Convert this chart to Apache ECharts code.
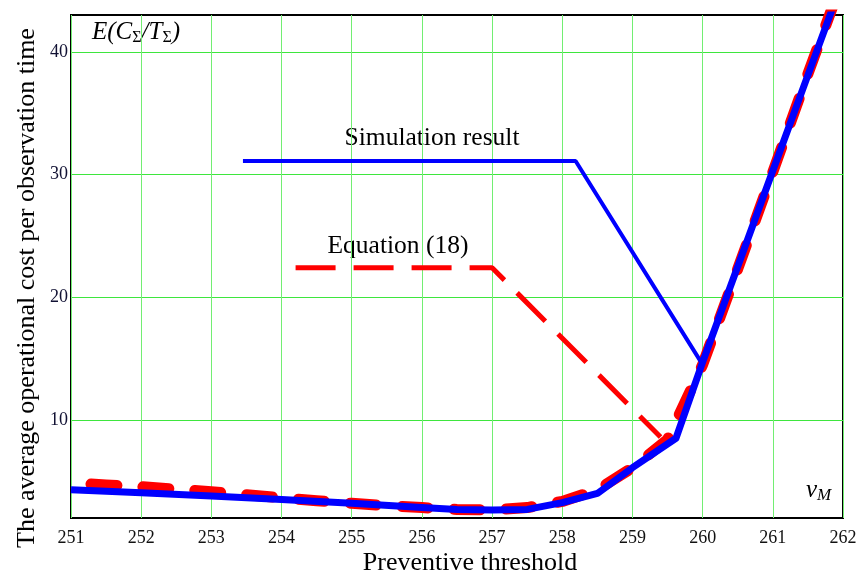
<!DOCTYPE html>
<html>
<head>
<meta charset="utf-8">
<script src="https://cdn.jsdelivr.net/npm/echarts@6/dist/echarts.min.js"></script>
<style>
  html, body { margin: 0; padding: 0; background: #fff; }
  #main { width: 865px; height: 575px; }
</style>
</head>
<body>
<div id="main"></div>
<script>
// simulation result (blue)
var simX = [251, 252, 253, 254, 255, 256, 256.5, 257, 257.5, 258, 258.5, 259, 259.62, 260, 260.5, 261, 261.5, 261.9];
var simY = [4.3, 4.05, 3.8, 3.5, 3.2, 2.85, 2.7, 2.65, 2.7, 3.25, 4.0, 6.1, 8.5, 14.7, 22.5, 30.3, 38.1, 44.3];

// equation (18) (red dashed)
var eqX = [251, 251.5, 252, 252.5, 253, 253.5, 254, 254.5, 255, 255.5, 256, 256.5, 257, 257.5, 258, 258.5, 259, 259.5, 260, 260.5, 261, 261.5, 261.95];
var eqY = [4.85, 4.7, 4.55, 4.35, 4.15, 3.9, 3.65, 3.4, 3.2, 3.0, 2.85, 2.7, 2.65, 2.85, 3.35, 4.3, 6.1, 8.4, 14.5, 22.3, 30.2, 38.2, 45.2];

// annotation leaders
var simLeadX = [253.45, 258.19, 260.0];
var simLeadY = [31.1, 31.1, 14.5];
var eqLeadX = [254.2, 257.0, 259.4];
var eqLeadY = [22.4, 22.4, 8.6];

var xTicks = [251, 252, 253, 254, 255, 256, 257, 258, 259, 260, 261, 262];

function pairs(xs, ys) {
    var res = [];
    for (var i = 0; i < xs.length; i++) {
        res.push([xs[i], ys[i]]);
    }
    return res;
}

var serif = '"Liberation Serif", "Times New Roman", serif';
var green = '#3ee63e';

// 每10个刻度才画一条网格线
var yLineColors = [];
for (var i = 0; i < 10; i++) {
    yLineColors.push(i === 8 ? green : 'rgba(0,0,0,0)');
}

var option = {
    backgroundColor: '#fff',
    animation: false,
    grid: {
        left: 71, right: 22, top: 15, bottom: 57,
        show: true,
        borderColor: '#000',
        borderWidth: 2,
        backgroundColor: 'transparent'
    },
    xAxis: {
        type: 'value',
        min: xTicks[0],
        max: xTicks[xTicks.length - 1],
        interval: 1,
        axisLine: { show: false },
        axisTick: { show: false },
        axisLabel: {
            color: '#111',
            fontFamily: serif,
            fontSize: 18,
            margin: 11
        },
        splitLine: { show: true, lineStyle: { color: '#72ee72', width: 1 } }
    },
    yAxis: {
        type: 'value',
        min: 2,
        max: 43,
        interval: 1,
        axisLine: { show: false },
        axisTick: { show: false },
        axisLabel: {
            color: '#111133',
            fontFamily: serif,
            fontSize: 18,
            margin: 3,
            formatter: function (v) {
                return v % 10 === 0 ? String(v) : '';
            }
        },
        splitLine: { show: true, lineStyle: { color: yLineColors, width: 1 } }
    },
    series: [
        {
            name: 'Equation (18)',
            type: 'line',
            data: pairs(eqX, eqY),
            showSymbol: false,
            clip: true,
            lineStyle: {
                color: '#ff0000',
                width: 11,
                type: [26, 26],
                dashOffset: 32,
                cap: 'round',
                join: 'round'
            },
            z: 2
        },
        {
            name: 'Simulation result',
            type: 'line',
            data: pairs(simX, simY),
            showSymbol: false,
            clip: true,
            lineStyle: { color: '#0000ff', width: 7, join: 'round' },
            z: 3
        },
        {
            name: 'sim-leader',
            type: 'line',
            data: pairs(simLeadX, simLeadY),
            showSymbol: false,
            lineStyle: { color: '#0000ff', width: 4 },
            z: 4
        },
        {
            name: 'eq-leader',
            type: 'line',
            data: pairs(eqLeadX, eqLeadY),
            showSymbol: false,
            lineStyle: { color: '#ff0000', width: 5, type: [40, 18] },
            z: 4
        }
    ],
    graphic: [
        {
            type: 'text',
            left: 92, top: 20,
            style: {
                text: '{i|E(C}{s|Σ}{i|/T}{s|Σ}{i|)}',
                rich: {
                    i: { fontFamily: serif, fontStyle: 'italic', fontSize: 25, fill: '#000' },
                    s: { fontFamily: serif, fontSize: 16, fill: '#000', padding: [11, 0, 0, 0] }
                }
            }
        },
        {
            type: 'text',
            left: 806, top: 478,
            style: {
                text: '{v|v}{m|M}',
                rich: {
                    v: { fontFamily: serif, fontStyle: 'italic', fontSize: 25, fill: '#000' },
                    m: { fontFamily: serif, fontStyle: 'italic', fontSize: 17, fill: '#000', padding: [11, 0, 0, 0] }
                }
            }
        },
        {
            type: 'text',
            x: 432, y: 138,
            style: {
                text: 'Simulation result',
                fontFamily: serif, fontSize: 25.5, fill: '#000',
                align: 'center', verticalAlign: 'middle'
            }
        },
        {
            type: 'text',
            x: 398, y: 246,
            style: {
                text: 'Equation (18)',
                fontFamily: serif, fontSize: 25.5, fill: '#000',
                align: 'center', verticalAlign: 'middle'
            }
        },
        {
            type: 'text',
            x: 470, y: 563,
            style: {
                text: 'Preventive threshold',
                fontFamily: serif, fontSize: 26, fill: '#000',
                align: 'center', verticalAlign: 'middle'
            }
        },
        {
            type: 'text',
            x: 27, y: 288,
            rotation: Math.PI / 2,
            style: {
                text: 'The average operational cost per observation time',
                fontFamily: serif, fontSize: 26, fill: '#000',
                align: 'center', verticalAlign: 'middle'
            }
        }
    ]
};

var myChart = echarts.init(document.getElementById('main'));
myChart.setOption(option);
</script>
</body>
</html>
